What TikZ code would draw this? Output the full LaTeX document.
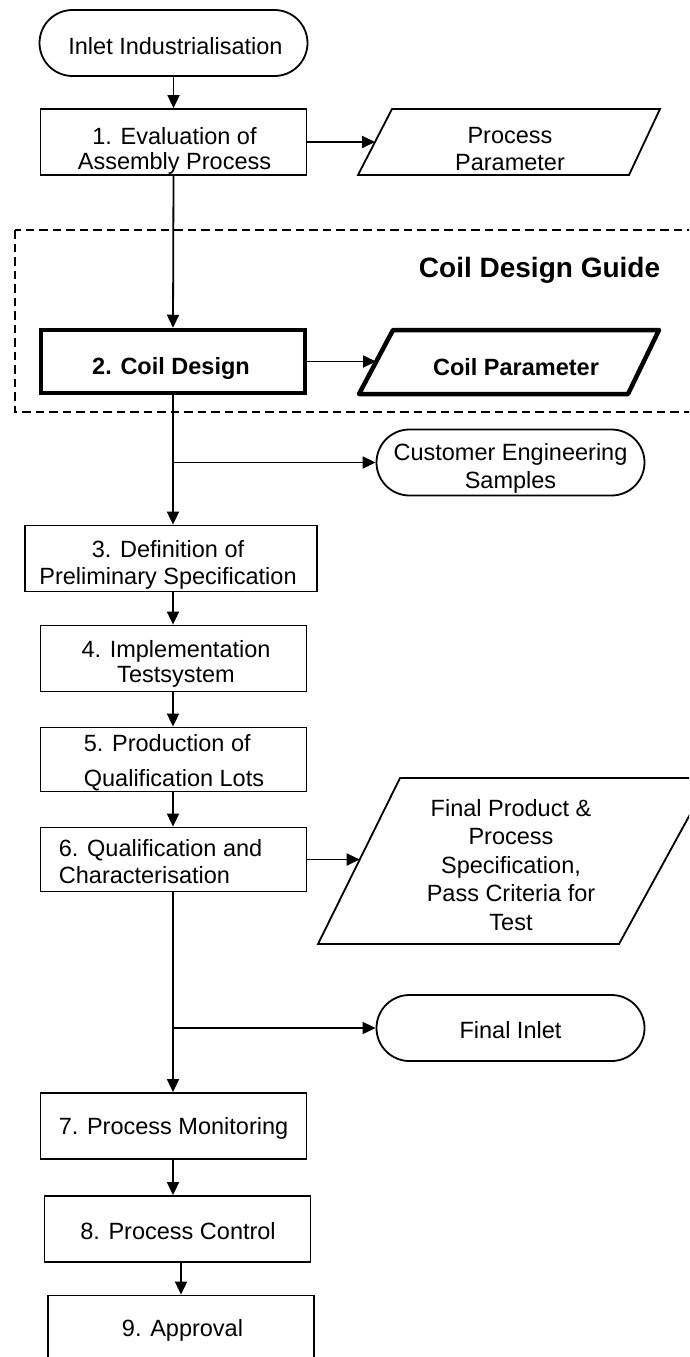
\documentclass[tikz,border=0pt]{standalone}
\usepackage{fontspec}
\setmainfont{Liberation Sans}
\usetikzlibrary{arrows.meta}

\begin{document}
\begin{tikzpicture}[x=1pt,y=-1pt,
  line width=1.8pt,
  txt/.style={inner sep=0pt, align=center, font=\fontsize{23.5}{26.5}\selectfont},
  boldtxt/.style={txt, font=\fontsize{23.5}{26.5}\selectfont\bfseries},
  box/.style={draw, line width=1.8pt, minimum width=266pt, minimum height=66pt, inner sep=0pt},
  thickbox/.style={draw, line width=4.5pt, minimum width=264pt, minimum height=63pt, inner sep=0pt},
  term/.style={draw, line width=1.8pt, rounded corners=33pt, minimum width=268pt, minimum height=66pt, inner sep=0pt},
  arr/.style={-{Triangle[length=13pt,width=12pt]}, line width=1.8pt},
  frame/.style={line width=2.4pt, dash pattern=on 8.5pt off 5pt},
  ]
\useasboundingbox (0,0) rectangle (689,1357);
\clip (0,0) rectangle (689,1357);

% start terminator
\node[term] (start) at (173.5,43) {};
\node[txt] (start-t) at (175.5,46) {Inlet Industrialisation};

% step 1 and its output
\node[box] (b1) at (173.5,142) {};
\node[txt, font=\fontsize{23.5}{25}\selectfont] (b1-t) at (174.5,151) {1. Evaluation of\\Assembly Process};
\draw (392,109) -- (660,109) -- (629,175) -- (358,175) -- cycle;
\node[txt] (pp) at (510,149) {Process\\Parameter};
\coordinate (pp-in) at (375,142);
\draw[arr] (start.south) -- (b1.north);
\draw[arr] (b1.east) -- (pp-in);

% coil design guide frame
\draw[frame] (15,230) rectangle (720,412);
\node[txt, font=\fontsize{28}{30}\selectfont\bfseries, anchor=east] (guide) at (661,270) {Coil Design Guide};

% step 2 and its output
\node[thickbox] (b2) at (173,361.5) {};
\node[boldtxt] (b2-t) at (171,368) {2. Coil Design};
\draw[line width=4.5pt, line join=round] (393,330) -- (659,330) -- (628,394) -- (359,394) -- cycle;
\node[boldtxt] (cp) at (516,367) {Coil Parameter};
\coordinate (cp-in) at (376,361.5);
\draw[arr] (b1.south) -- (b2.north);
\draw[arr] (b2.east) -- (cp-in);

% customer engineering samples
\node[term] (ces) at (510.5,462.5) {};
\node[txt, font=\fontsize{23.5}{28}\selectfont] (ces-t) at (510.5,468) {Customer Engineering\\Samples};

% steps 3 to 6
\node[box, minimum width=292.5pt] (b3) at (171,558.5) {};
\node[txt, font=\fontsize{23.5}{27}\selectfont] (b3-t) at (168,565) {3. Definition of\\Preliminary Specification};
\node[box] (b4) at (173.5,658.5) {};
\node[txt, font=\fontsize{23.5}{25}\selectfont] (b4-t) at (176,664) {4. Implementation\\Testsystem};
\node[box, minimum height=64pt] (b5) at (173.5,759.5) {};
\node[txt, align=left, font=\fontsize{23.5}{35}\selectfont] (b5-t) at (174,762.5) {5. Production of\\Qualification Lots};
\node[box, minimum height=64pt] (b6) at (173.5,859.5) {};
\node[txt, align=left, anchor=west, font=\fontsize{23.5}{27}\selectfont] (b6-t) at (58,861.5) {6. Qualification and\\Characterisation};

\coordinate (j1) at (b2.south |- ces.west);
\draw (b2.south) -- (j1);
\draw[arr] (j1) -- (ces.west);
\draw[arr] (j1) -- (j1 |- b3.north);
\draw[arr] (b3.south -| j1) -- (j1 |- b4.north);
\draw[arr] (b4.south -| j1) -- (j1 |- b5.north);
\draw[arr] (b5.south -| j1) -- (j1 |- b6.north);

% final specification output
\draw (400,778) -- (710,778) -- (619,944) -- (318,944) -- cycle;
\node[txt, font=\fontsize{23.5}{28.5}\selectfont] (fp) at (511,865) {Final Product \&\\Process\\Specification,\\Pass Criteria for\\Test};
\coordinate (fp-in) at (359.7,859.5);
\draw[arr] (b6.east) -- (fp-in);

% final inlet
\node[term] (fi) at (510.5,1028) {};
\node[txt] (fi-t) at (510.5,1030) {Final Inlet};

% steps 7 to 9
\node[box] (b7) at (173.5,1126) {};
\node[txt] (b7-t) at (173.5,1128) {7. Process Monitoring};
\node[box] (b8) at (177.5,1229) {};
\node[txt] (b8-t) at (178,1231) {8. Process Control};
\node[box] (b9) at (181,1328.5) {};
\node[txt] (b9-t) at (182.5,1330) {9. Approval};

\coordinate (j2) at (j1 |- fi.west);
\draw (b6.south -| j1) -- (j2);
\draw[arr] (j2) -- (fi.west);
\draw[arr] (j2) -- (j1 |- b7.north);
\draw[arr] (b7.south -| j1) -- (j1 |- b8.north);
\draw[arr] (b8.south -| b9.north) -- (b9.north);
\end{tikzpicture}
\end{document}
